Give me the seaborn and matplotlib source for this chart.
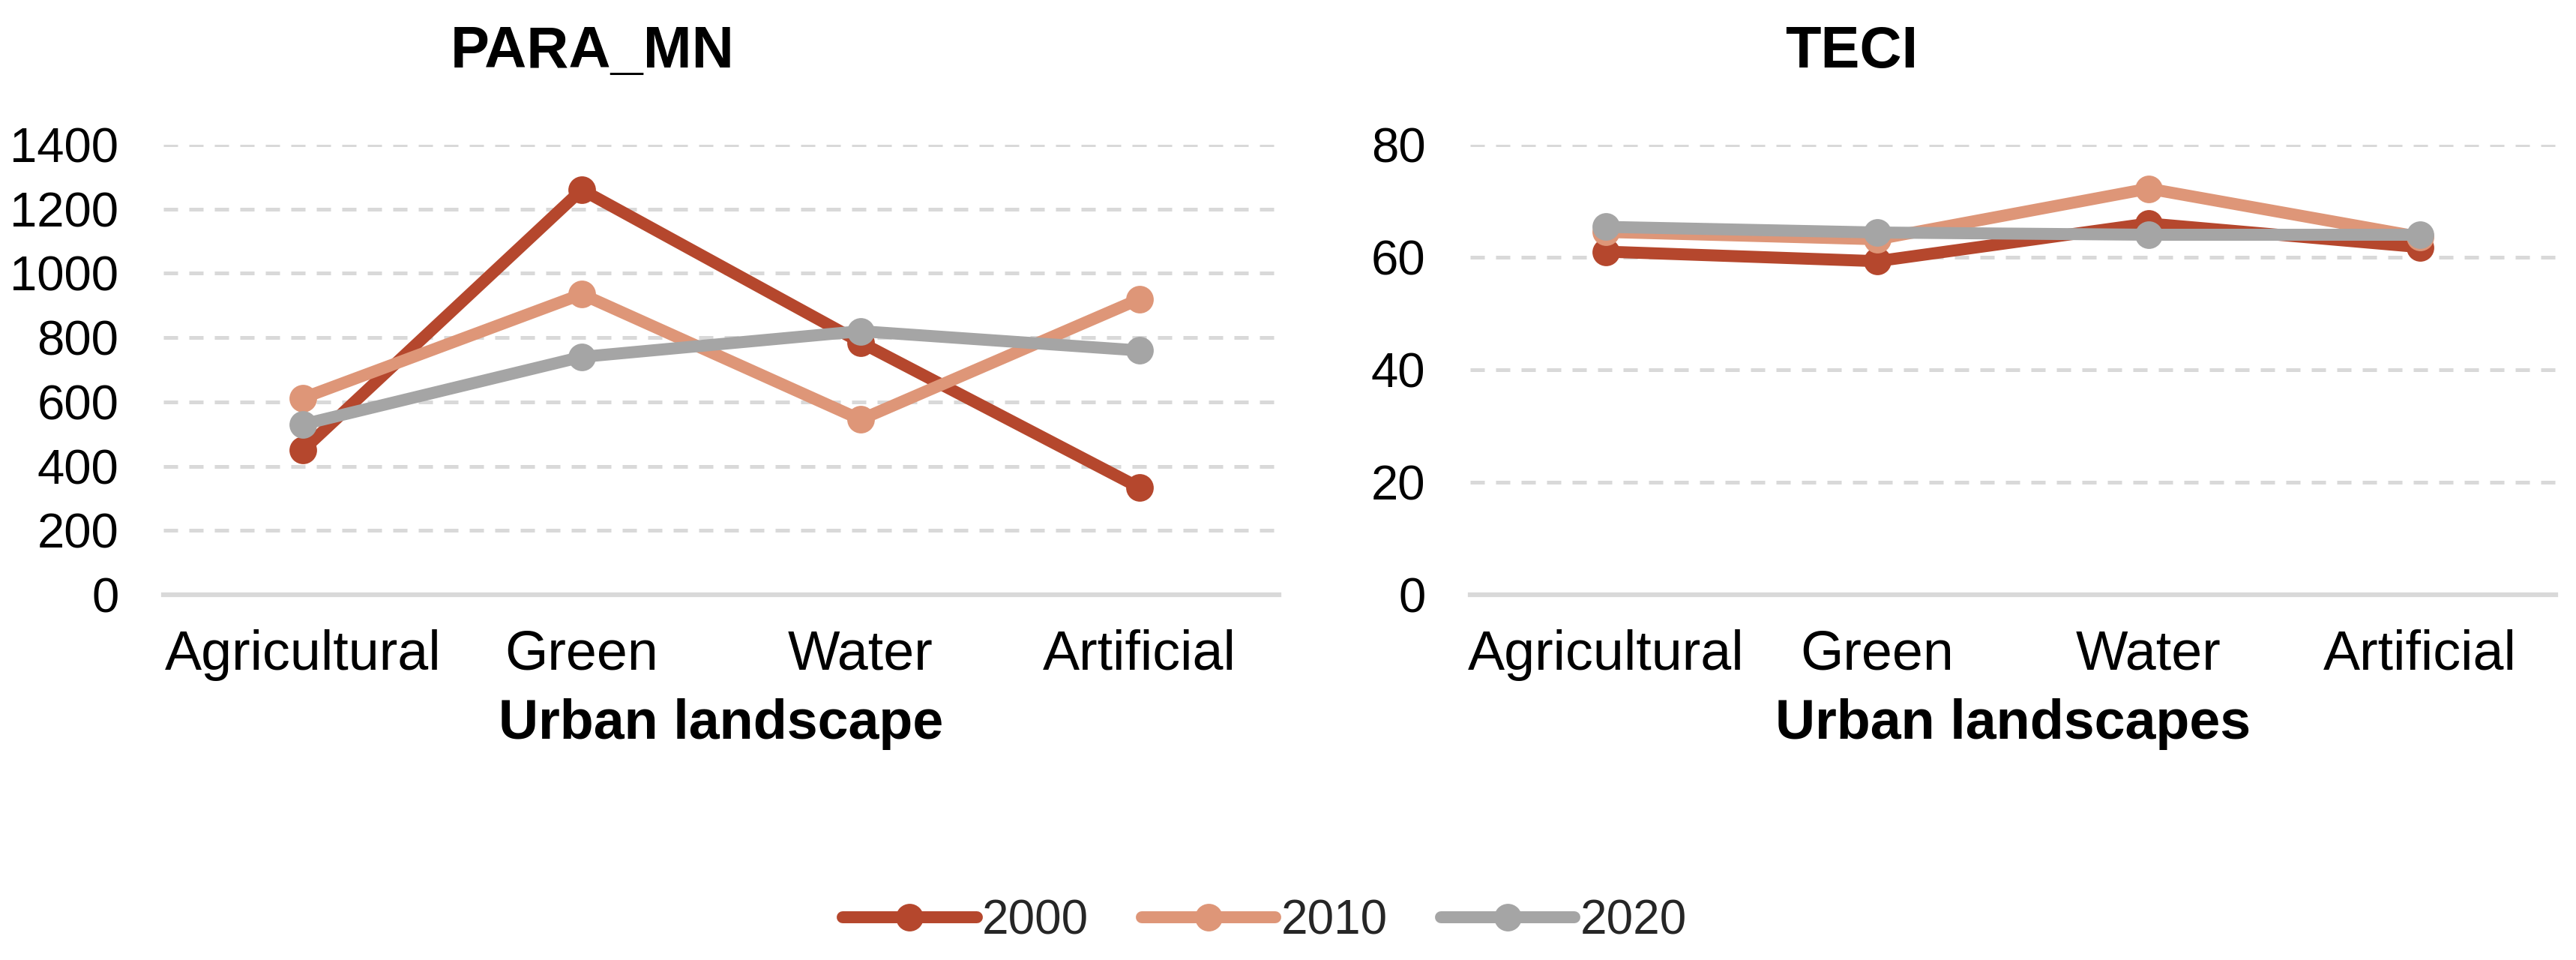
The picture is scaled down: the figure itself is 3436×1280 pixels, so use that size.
import matplotlib
matplotlib.use("Agg")
import matplotlib.pyplot as plt
import seaborn as sns
import pandas as pd

# ---- data ----
categories = ["Agricultural", "Green", "Water", "Artificial"]
years = ["2000", "2010", "2020"]
para_2000 = [450, 1260, 785, 333]
para_2010 = [612, 935, 545, 920]
para_2020 = [530, 740, 820, 760]
teci_2000 = [61.0, 59.3, 66.0, 61.8]
teci_2010 = [64.5, 63.2, 72.2, 63.6]
teci_2020 = [65.4, 64.4, 64.0, 64.0]
para_ticks = [0, 200, 400, 600, 800, 1000, 1200, 1400]
teci_ticks = [0, 20, 40, 60, 80]
colors = {"2000": "#B5472D", "2010": "#DE9678", "2020": "#A5A5A5"}


def long_df(series_list):
    rows = []
    for yr, vals in zip(years, series_list):
        for c, v in zip(categories, vals):
            rows.append({"Category": c, "Value": v, "Year": yr})
    return pd.DataFrame(rows)


para_df = long_df([para_2000, para_2010, para_2020])
teci_df = long_df([teci_2000, teci_2010, teci_2020])

sns.set_theme(style="white")
plt.rcParams["font.family"] = ["Liberation Sans", "DejaVu Sans"]

W, H = 3437, 1280
fig = plt.figure(figsize=(W / 100, H / 100), dpi=100)

ax1 = fig.add_axes([218 / W, 1 - 793 / H, 1488 / W, 600 / H])
ax2 = fig.add_axes([1961 / W, 1 - 793 / H, 1448 / W, 600 / H])

for ax, df, ticks, ylim, xlabel in [
    (ax1, para_df, para_ticks, (0, 1400), "Urban landscape"),
    (ax2, teci_df, teci_ticks, (0, 80), "Urban landscapes"),
]:
    sns.lineplot(data=df, x="Category", y="Value", hue="Year", hue_order=years,
                 palette=colors, marker="o", markersize=26.5, markeredgewidth=0,
                 linewidth=11.5, sort=False, ax=ax)
    ax.set_xlim(-0.5, 3.5)
    ax.set_ylim(*ylim)
    ax.set_yticks(ticks)
    ax.set_yticklabels([str(t) for t in ticks])
    ax.grid(axis="y", color="#D9D9D9", linestyle=(0, (3.8, 3.0)), linewidth=3.6)
    ax.grid(axis="x", visible=False)
    for s in ["left", "right", "top"]:
        ax.spines[s].set_visible(False)
    ax.spines["bottom"].set_color("#D9D9D9")
    ax.spines["bottom"].set_linewidth(4.5)
    ax.spines["bottom"].set_zorder(0.5)
    ax.tick_params(axis="y", length=0, pad=43, labelsize=47, labelcolor="black")
    ax.tick_params(axis="x", length=0, pad=33, labelsize=53, labelcolor="black")
    ax.set_ylabel("")
    ax.set_xlabel(xlabel, fontsize=53, fontweight="bold", color="black", labelpad=17)
    ax.get_legend().remove()

fig.text(790 / W, 1 - 90 / H, "PARA_MN", ha="center", va="baseline",
         fontsize=56, fontweight="bold", color="black")
fig.text(2470 / W, 1 - 90 / H, "TECI", ha="center", va="baseline",
         fontsize=56, fontweight="bold", color="black")

handles, labels = ax1.get_legend_handles_labels()
fig.legend(handles, labels, loc="center", bbox_to_anchor=(1687 / W, 1 - 1228 / H),
           ncol=3, frameon=False, fontsize=46, handlelength=2.8,
           handletextpad=0.12, columnspacing=1.1, borderaxespad=0)

fig.savefig("out.png", dpi=100, facecolor="white")
